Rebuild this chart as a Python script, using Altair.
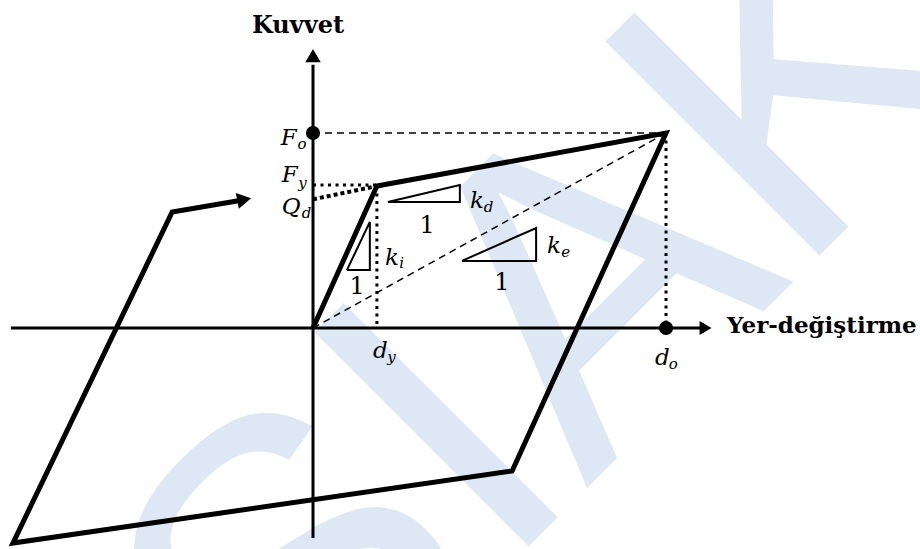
import altair as alt
import pandas as pd

# ---------------------------------------------------------------------------
# Bilinear hysteresis model of an isolator (displacement d, force F units)
# ---------------------------------------------------------------------------
X_DOMAIN = [-88.67, 171.95]
Y_DOMAIN = [-113.33, 168.21]

# Hysteresis loop vertices in drawing order (ends in the short arrow shaft)
loop_d = [0.0, 18.1, 100.0, 56.4, -85.0, -39.9, -20.7]
loop_f = [0.0, 72.8, 100.0, -73.3, -110.3, 59.5, 65.4]

# Axis lines (start, end)
axis_x1 = [-85.6, 0.0]
axis_x2 = [110.0, 0.0]
axis_y1 = [0.0, -107.7]
axis_y2 = [0.0, 135.0]

# Arrow heads: d, F, shape, rotation
head_d = [111.2, 0.0, -19.5]
head_f = [0.0, 139.7, 65.9]
head_shape = ["triangle-right", "triangle-up", "triangle-right"]
head_angle = [0, 0, 349]
head_size = [190, 240, 260]

# Characteristic points (F_o on the force axis, d_o on the displacement axis)
dot_d = [0.0, 100.0]
dot_f = [100.0, 0.0]

# Dashed guides: F_o level and secant (effective stiffness) line
dash_d1 = [0.0, 0.0]
dash_f1 = [100.0, 0.0]
dash_d2 = [100.0, 100.0]
dash_f2 = [100.0, 100.0]

# Dotted guides: F_y level, d_y and d_o drops
dot_line_d1 = [0.0, 18.1, 100.0]
dot_line_f1 = [73.3, 72.8, 100.0]
dot_line_d2 = [18.1, 18.1, 100.0]
dot_line_f2 = [73.3, 0.0, 0.0]

# Q_d intercept: extension of the post-yield branch back to the force axis
qd_d = [0.0, 18.1]
qd_f = [66.0, 72.8]

# Slope triangles k_d, k_e, k_i (closed outlines)
tri_name = ["kd"] * 4 + ["ke"] * 4 + ["ki"] * 4
tri_d = [21.2, 41.6, 41.6, 21.2,
         42.2, 63.2, 63.2, 42.2,
         9.6, 16.1, 16.1, 9.6]
tri_f = [64.6, 64.6, 73.3, 64.6,
         34.4, 34.4, 51.3, 34.4,
         29.7, 29.7, 54.4, 29.7]

# Italic symbols (main letter) and their subscripts
sym_text = ["F", "F", "Q", "k", "k", "k", "d", "d"]
sym_d = [-4.6, -4.3, -3.5, 44.5, 66.3, 20.4, 17.0, 96.9]
sym_f = [93.8, 74.9, 58.5, 61.5, 38.5, 32.3, -15.4, -19.0]
sym_align = ["right", "right", "right", "left", "left", "left", "left", "left"]
sub_text = ["o", "y", "d", "d", "e", "i", "y", "o"]
sub_d = [-4.4, -4.2, -3.2, 48.4, 70.3, 24.4, 21.0, 100.8]
sub_f = [92.0, 72.0, 56.6, 59.5, 36.4, 30.6, -17.6, -20.8]

# Unit run labels under the slope triangles
one_d = [32.3, 53.5, 12.5]
one_f = [48.7, 19.5, 17.4]

# Axis titles
title_text = ["Kuvvet", "Yer-değiştirme"]
title_d = [-4.25, 117.3]
title_f = [151.3, -2.6]
title_size = [24, 23]
title_align = ["center", "left"]

# Background mark
wm_text = ["SIAK"]
wm_d = [94.6]
wm_f = [-51.3]

SERIF = "DejaVu Serif"

sx = alt.Scale(domain=X_DOMAIN, nice=False, zero=False)
sy = alt.Scale(domain=Y_DOMAIN, nice=False, zero=False)


def X(field="d"):
    return alt.X(f"{field}:Q", scale=sx, axis=None)


def Y(field="f"):
    return alt.Y(f"{field}:Q", scale=sy, axis=None)


watermark = alt.Chart(pd.DataFrame({"d": wm_d, "f": wm_f, "t": wm_text})).mark_text(
    angle=315, align="center", baseline="alphabetic", font="Liberation Sans",
    fontSize=440, color="#dde8f4"
).encode(x=X(), y=Y(), text="t:N")

loop_df = pd.DataFrame({"d": loop_d, "f": loop_f, "o": range(len(loop_d))})
loop = alt.Chart(loop_df).mark_line(
    color="black", strokeWidth=5, strokeJoin="miter", strokeCap="butt"
).encode(x=X(), y=Y(), order="o:Q")

axes_df = pd.DataFrame({"d": axis_x1, "f": axis_y1, "d2": axis_x2, "f2": axis_y2})
axes = alt.Chart(axes_df).mark_rule(color="black", strokeWidth=3).encode(
    x=X(), y=Y(), x2="d2:Q", y2="f2:Q"
)

heads_df = pd.DataFrame({"d": head_d, "f": head_f, "s": head_shape,
                         "a": head_angle, "z": head_size})
heads = alt.Chart(heads_df).mark_point(filled=True, color="black", opacity=1).encode(
    x=X(), y=Y(),
    shape=alt.Shape("s:N", scale=None, legend=None),
    angle=alt.Angle("a:Q", scale=None),
    size=alt.Size("z:Q", scale=None, legend=None),
)

dash_df = pd.DataFrame({"d": dash_d1, "f": dash_f1, "d2": dash_d2, "f2": dash_f2})
dashes = alt.Chart(dash_df).mark_rule(
    color="black", strokeWidth=1.5, strokeDash=[7, 5]
).encode(x=X(), y=Y(), x2="d2:Q", y2="f2:Q")

dotted_df = pd.DataFrame({"d": dot_line_d1, "f": dot_line_f1,
                          "d2": dot_line_d2, "f2": dot_line_f2})
dotted = alt.Chart(dotted_df).mark_rule(
    color="black", strokeWidth=3, strokeDash=[3, 4.5]
).encode(x=X(), y=Y(), x2="d2:Q", y2="f2:Q")

qd_df = pd.DataFrame({"d": [qd_d[0]], "f": [qd_f[0]], "d2": [qd_d[1]], "f2": [qd_f[1]]})
qd_line = alt.Chart(qd_df).mark_rule(
    color="black", strokeWidth=4, strokeDash=[4, 3]
).encode(x=X(), y=Y(), x2="d2:Q", y2="f2:Q")

tri_df = pd.DataFrame({"d": tri_d, "f": tri_f, "g": tri_name,
                       "o": list(range(len(tri_d)))})
triangles = alt.Chart(tri_df).mark_line(
    color="black", strokeWidth=2, strokeJoin="miter"
).encode(x=X(), y=Y(), detail="g:N", order="o:Q")

dots_df = pd.DataFrame({"d": dot_d, "f": dot_f})
dots = alt.Chart(dots_df).mark_point(
    filled=True, color="black", opacity=1, size=200, shape="circle"
).encode(x=X(), y=Y())

sym_df = pd.DataFrame({"d": sym_d, "f": sym_f, "t": sym_text, "al": sym_align})
sym_layers = [
    alt.Chart(part).mark_text(
        font=SERIF, fontStyle="italic", fontSize=23, align=al,
        baseline="alphabetic", color="black"
    ).encode(x=X(), y=Y(), text="t:N")
    for al, part in sym_df.groupby("al")
]

sub_df = pd.DataFrame({"d": sub_d, "f": sub_f, "t": sub_text})
subs = alt.Chart(sub_df).mark_text(
    font=SERIF, fontStyle="italic", fontSize=15, align="left",
    baseline="alphabetic", color="black"
).encode(x=X(), y=Y(), text="t:N")

ones_df = pd.DataFrame({"d": one_d, "f": one_f, "t": ["1"] * 3})
ones = alt.Chart(ones_df).mark_text(
    font=SERIF, fontSize=24, align="center", baseline="alphabetic", color="black"
).encode(x=X(), y=Y(), text="t:N")

titles_df = pd.DataFrame({"d": title_d, "f": title_f, "t": title_text,
                          "al": title_align, "z": title_size})
title_layers = [
    alt.Chart(titles_df[titles_df.al == al]).mark_text(
        font=SERIF, fontWeight="bold", align=al,
        baseline="alphabetic", color="black"
    ).encode(x=X(), y=Y(), text="t:N",
             size=alt.Size("z:Q", scale=None, legend=None))
    for al in ["center", "left"]
]

chart = alt.layer(
    watermark, dashes, dotted, qd_line, axes, heads, triangles, loop, dots,
    *sym_layers, subs, ones, *title_layers
).properties(
    width=920, height=549,
    autosize=alt.AutoSizeParams(type="none"),
    padding=0,
    background="white",
).configure_view(stroke=None)

chart.save("out.html", embed_options={"renderer": "svg", "actions": False})
